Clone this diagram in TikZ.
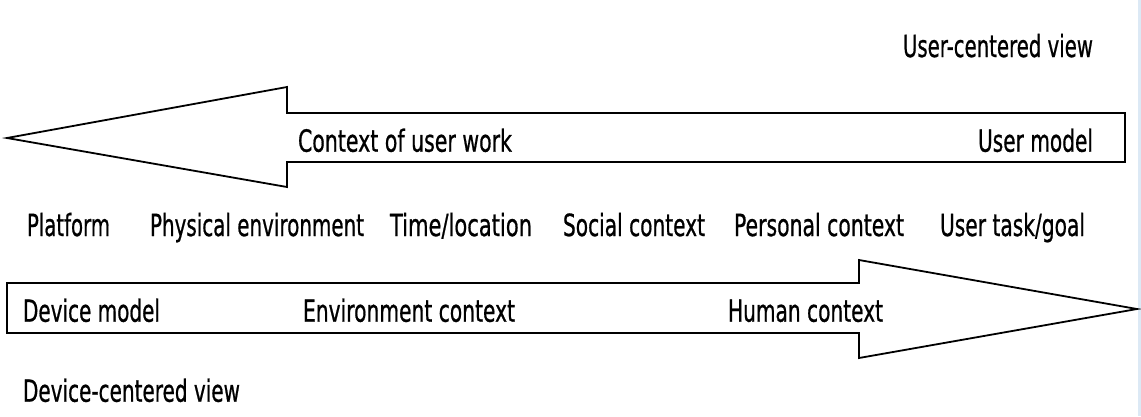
\documentclass[tikz,border=0pt]{standalone}
\usepackage{fontspec}
\setmainfont{DejaVu Sans}
% label face: regular outlines, slightly emboldened
\newfontfamily\lblfont{DejaVu Sans}[BoldFont={DejaVu Sans},BoldFeatures={FakeBold=0.9}]
\usepackage{graphicx}
% squeeze a label horizontally to a given width, keeping its height
\newcommand{\fitw}[2]{\resizebox{#1}{\height}{#2}}
\definecolor{edgeblue}{HTML}{DCE9F5}
\begin{document}
\begin{tikzpicture}[x=1pt,y=-1pt,
  lbl/.style={inner sep=0pt,outer sep=0pt,font=\lblfont\bfseries\fontsize{30.5}{32}\selectfont,text=black},
  bigarrow/.style={draw=black,line width=1.8pt,line join=miter,fill=white}]
  \useasboundingbox (0,0) rectangle (1141,416);
  \fill[white] (0,0) rectangle (1141,416);
  \fill[edgeblue] (1138,0) rectangle (1141,416);

  % upper arrow, pointing left
  \draw[bigarrow] (7,138) -- (287,87) -- (287,113) -- (1125,113) -- (1125,162)
    -- (287,162) -- (287,187) -- cycle;
  % lower arrow, pointing right
  \draw[bigarrow] (7,283) -- (859,283) -- (859,260) -- (1137,309) -- (859,358)
    -- (859,333) -- (7,333) -- cycle;

  \node[lbl,anchor=base east] (ucv) at (1093,57) {\fitw{190pt}{User-centered view}};
  \node[lbl,anchor=base west] (cuw) at (298,151.7) {\fitw{214pt}{Context of user work}};
  \node[lbl,anchor=base east] (um) at (1093,151.7) {\fitw{115pt}{User model}};

  \node[lbl,anchor=base west] (plat) at (27,236) {\fitw{83pt}{Platform}};
  \node[lbl,anchor=base west] (phys) at (150,236) {\fitw{214pt}{Physical environment}};
  \node[lbl,anchor=base west] (time) at (390,236) {\fitw{142pt}{Time/location}};
  \node[lbl,anchor=base west] (soc) at (563,236) {\fitw{142pt}{Social context}};
  \node[lbl,anchor=base west] (pers) at (734,236) {\fitw{170pt}{Personal context}};
  \node[lbl,anchor=base west] (task) at (940,236) {\fitw{145pt}{User task/goal}};

  \node[lbl,anchor=base west] (dm) at (23,321.7) {\fitw{137pt}{Device model}};
  \node[lbl,anchor=base west] (env) at (303,321.7) {\fitw{212pt}{Environment context}};
  \node[lbl,anchor=base west] (hum) at (728,321.7) {\fitw{155pt}{Human context}};

  \node[lbl,anchor=base west] (dcv) at (23,401.7) {\fitw{217pt}{Device-centered view}};
\end{tikzpicture}
\end{document}
